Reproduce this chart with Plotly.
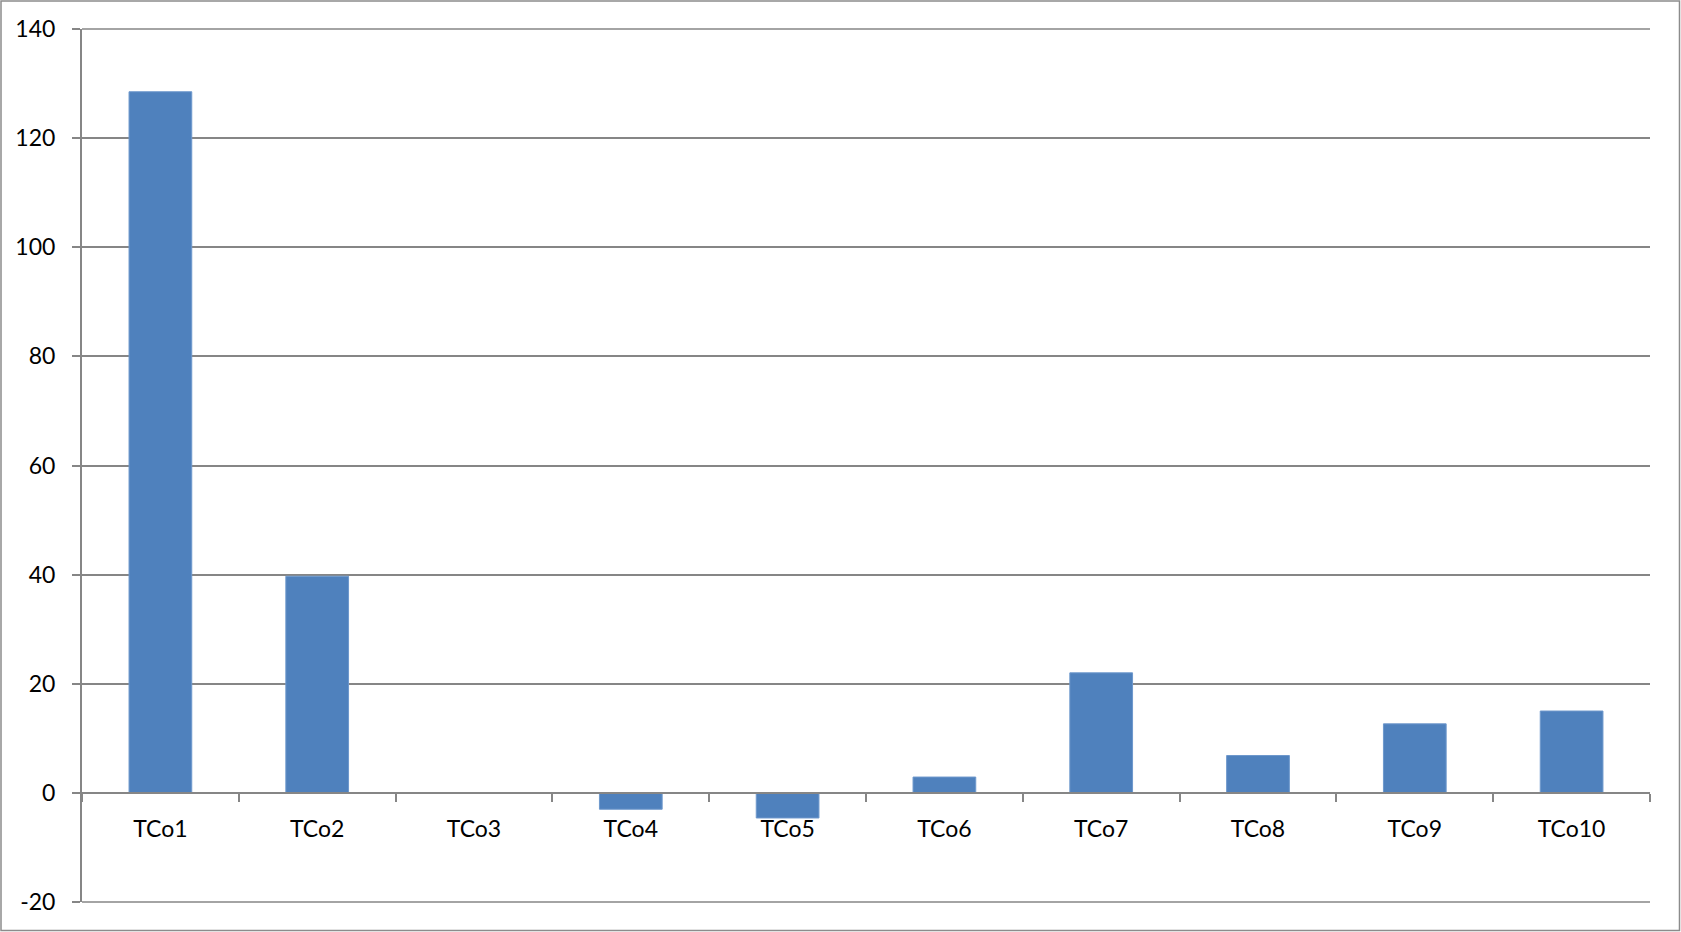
import plotly.graph_objects as go

categories = ["TCo1", "TCo2", "TCo3", "TCo4", "TCo5", "TCo6", "TCo7", "TCo8", "TCo9", "TCo10"]
values = [128.5, 39.7, 0.0, -3.0, -4.6, 2.9, 22.0, 6.85, 12.65, 15.0]
y_ticks = [-20, 0, 20, 40, 60, 80, 100, 120, 140]

W, H = 1681, 932
L, R, T, B = 82, 31, 29, 30
plot_w = W - L - R
plot_h = H - T - B
y_min, y_max = -20, 140

axis_grey = "#868686"
font = dict(family="Lato, 'Open Sans', sans-serif", size=23, color="#000000")

fig = go.Figure(
    go.Bar(
        x=categories,
        y=values,
        marker=dict(color="#4F81BD", line=dict(color="#6E98CC", width=1)),
        hoverinfo="x+y",
    )
)

# gridlines at the two ends of the value range, which plotly leaves out;
# placed in paper units so they are not clipped at the plot edge
edge_lines = [
    dict(
        type="line",
        xref="paper",
        yref="paper",
        x0=0,
        x1=1,
        y0=(v - y_min) / (y_max - y_min),
        y1=(v - y_min) / (y_max - y_min),
        line=dict(color=axis_grey, width=1.5),
        layer="below",
    )
    for v in (y_ticks[0], y_ticks[-1])
]

# chart-area border
border = dict(
    type="rect",
    xref="paper",
    yref="paper",
    x0=(1 - L) / plot_w,
    x1=(W - 1.5 - L) / plot_w,
    y0=-(B - 1.5) / plot_h,
    y1=(plot_h + T - 1) / plot_h,
    line=dict(color="#8c8c8c", width=1.5),
    fillcolor="rgba(0,0,0,0)",
    layer="below",
)

fig.update_layout(
    width=W,
    height=H,
    margin=dict(l=L, r=R, t=T, b=B, pad=0),
    paper_bgcolor="white",
    plot_bgcolor="white",
    font=font,
    bargap=0.6,
    showlegend=False,
    xaxis=dict(
        type="category",
        anchor="free",
        position=(0 - y_min) / (y_max - y_min),
        showline=True,
        linecolor=axis_grey,
        linewidth=2,
        ticks="outside",
        tickson="boundaries",
        ticklen=8,
        tickwidth=2,
        tickcolor=axis_grey,
        ticklabelstandoff=16,
        showgrid=False,
        zeroline=False,
        tickfont=font,
        range=[-0.5, len(categories) - 0.5],
    ),
    yaxis=dict(
        range=[y_min, y_max],
        tickvals=y_ticks,
        ticktext=[str(v) for v in y_ticks],
        showline=True,
        linecolor=axis_grey,
        linewidth=2,
        ticks="outside",
        ticklen=8,
        tickwidth=2,
        tickcolor=axis_grey,
        ticklabelstandoff=12,
        showgrid=True,
        gridcolor=axis_grey,
        gridwidth=1.5,
        zeroline=False,
        tickfont=font,
    ),
    shapes=edge_lines + [border],
)

fig.write_html("out.html")
